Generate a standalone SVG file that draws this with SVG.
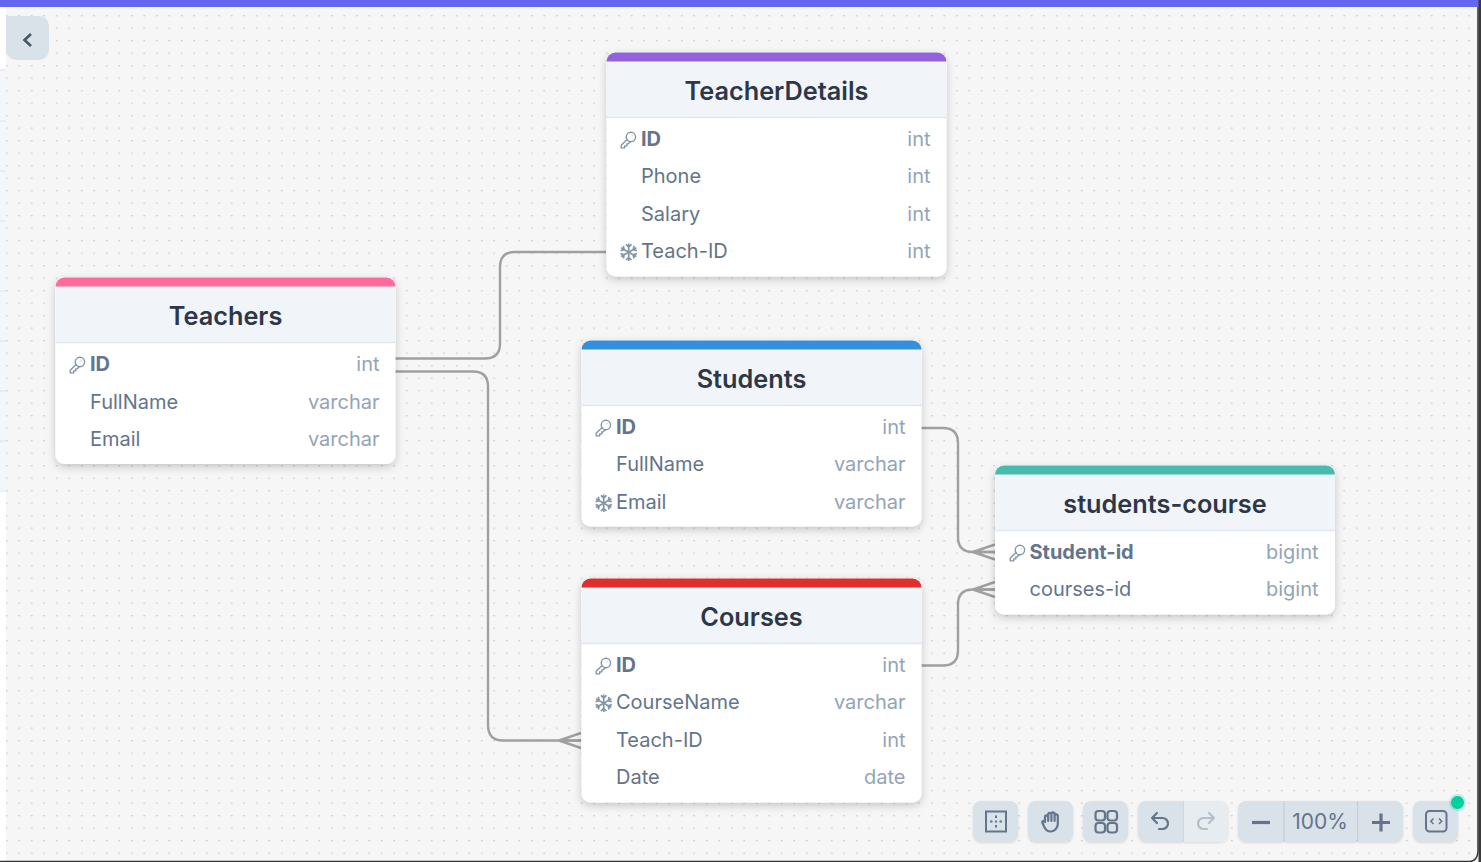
<svg xmlns="http://www.w3.org/2000/svg" xmlns:xlink="http://www.w3.org/1999/xlink" width="1481" height="862" viewBox="0 0 1481 862">
<style>
text{font-family:Inter,"Liberation Sans",sans-serif}
.ti{font-size:25.3px;font-weight:600;fill:#2d3748;text-anchor:middle}
.f{font-size:20px;fill:#64748b}
.b{font-size:20px;font-weight:700;fill:#64748b}
.t{font-size:20px;fill:#94a3b8;text-anchor:end}
.c{fill:none;stroke:#a0a0a0;stroke-width:2.4}
.key{fill:none;stroke:#8595a8;stroke-width:1.4;stroke-linejoin:round;stroke-linecap:round}
.sn{fill:none;stroke:#8595a8;stroke-width:1.700}
.tb{fill:#d9e2e9}
.ic{fill:none;stroke:#64748b;stroke-width:2.2;stroke-linecap:round;stroke-linejoin:round}
.head{fill:#f1f5f9}
.card{fill:#fff;filter:url(#sh)}
.sep{stroke:#e2e8f0;stroke-width:1.4}
</style>
<defs>
<pattern id="dots" width="12.5" height="12.5" patternUnits="userSpaceOnUse" x="0" y="2.5">
<rect x="6" y="-.1" width="1.5" height="1.5" fill="#cacaca"/>
</pattern>
<filter id="sh" x="-10%" y="-10%" width="120%" height="125%">
<feDropShadow dx="0" dy="3" stdDeviation="4" flood-color="#000" flood-opacity=".2"/>
</filter>
<filter id="sh2" x="-20%" y="-20%" width="140%" height="140%">
<feDropShadow dx="0" dy="1" stdDeviation="1.2" flood-color="#000" flood-opacity=".12"/>
</filter>
<g id="k"><circle cx="9.400" cy="-3" r="4.700" class="key"/><path class="key" d="M5.600-.4-.3 5.300V7.900H3.200V5.900H5.300V3.900H6.500L8.700 1.700"/><circle cx="10.600" cy="-4.200" r=".5" fill="#8595a8"/></g>
<path id="a" class="sn" d="M0 0V-8.800M-2.800-7.800 0-5.200 2.800-7.800"/>
<g id="s"><use xlink:href="#a" href="#a"/><use xlink:href="#a" href="#a" transform="rotate(60)"/><use xlink:href="#a" href="#a" transform="rotate(120)"/><use xlink:href="#a" href="#a" transform="rotate(180)"/><use xlink:href="#a" href="#a" transform="rotate(240)"/><use xlink:href="#a" href="#a" transform="rotate(300)"/></g>
<clipPath id="cT"><rect x="55.500" y="277.500" width="340" height="186.500" rx="9"/></clipPath>
<clipPath id="cD"><rect x="606.500" y="52.500" width="340" height="224" rx="9"/></clipPath>
<clipPath id="cS"><rect x="581.500" y="340.500" width="340" height="186" rx="9"/></clipPath>
<clipPath id="cC"><rect x="581.500" y="578.500" width="340" height="224" rx="9"/></clipPath>
<clipPath id="cX"><rect x="995" y="465.500" width="340" height="149" rx="9"/></clipPath>
</defs>

<g id="background">
<rect width="1481" height="862" fill="#fff"/>
<rect x="6" y="7" width="1472" height="854" fill="#f6f6f6"/>
<rect x="6" y="7" width="1472" height="854" fill="url(#dots)"/>
<rect x="0" y="70" width="6" height="420" fill="#f4f7fa"/>
<path d="M0 70H6M0 121H6M0 171H6M0 221H6M0 291H6M0 341H6M0 391H6M0 441H6M0 491H6" stroke="#dbe2ea" stroke-width="1"/>
<rect width="1481" height="7" fill="#6366f1"/>
<path d="M0 861.500H1470Q1477 861 1478 852V7" fill="none" stroke="#333" stroke-width="1.500"/>
<rect x="1478.500" y="0" width="2.500" height="862" fill="#3a3a3a"/>
</g>

<g id="back-button">
<path class="tb" d="M6 16H39a10 10 0 0 1 10 10V50a10 10 0 0 1-10 10H16a10 10 0 0 1-10-10Z"/>
<path d="M31 34 24.500 40 31 46" fill="none" stroke="#475569" stroke-width="2.600"/>
</g>

<g id="connectors">
<path class="c" d="M395 358.500H485Q500 358.500 500 343.500V267Q500 252 515 252H606"/>
<path class="c" d="M395 371.500H473Q488 371.500 488 386.500V725Q488 740.500 503 740.500H581"/>
<path class="c" d="M559 740.500 581 733M559 740.500H581M559 740.500 581 748"/>
<path class="c" d="M921 428H943Q958 428 958 443V537Q958 552 973 552H995"/>
<path class="c" d="M973 552 995 544.500M973 552H995M973 552 995 559.500"/>
<path class="c" d="M921 665.500H943Q958 665.500 958 650.500V604.500Q958 589.500 973 589.500H995"/>
<path class="c" d="M973 589.500 995 582M973 589.500H995M973 589.500 995 597"/>
</g>

<g id="Teachers">
<rect class="card" x="55.500" y="277.500" width="340" height="186.500" rx="9"/>
<g clip-path="url(#cT)"><rect class="head" x="55" y="277" width="341" height="66"/><rect x="55" y="277" width="341" height="9.500" fill="#ff6b9a"/></g>
<line class="sep" x1="55.500" x2="395.500" y1="342.500" y2="342.500"/>
<text class="ti" x="225.500" y="325">Teachers</text>
<use xlink:href="#k" href="#k" x="70.500" y="365"/>
<text class="b" x="90" y="371">ID</text><text class="t" x="379.500" y="371">int</text>
<text class="f" x="90" y="409">FullName</text><text class="t" x="379.500" y="409">varchar</text>
<text class="f" x="90" y="446">Email</text><text class="t" x="379.500" y="446">varchar</text>
</g>

<g id="TeacherDetails">
<rect class="card" x="606.500" y="52.500" width="340" height="224" rx="9"/>
<g clip-path="url(#cD)"><rect class="head" x="606" y="52" width="341" height="66"/><rect x="606" y="52" width="341" height="9.500" fill="#9461de"/></g>
<line class="sep" x1="606.500" x2="946.500" y1="117.500" y2="117.500"/>
<text class="ti" x="776.500" y="100">TeacherDetails</text>
<use xlink:href="#k" href="#k" x="621.500" y="140"/>
<text class="b" x="641" y="146">ID</text><text class="t" x="930.500" y="146">int</text>
<text class="f" x="641" y="183">Phone</text><text class="t" x="930.500" y="183">int</text>
<text class="f" x="641" y="221">Salary</text><text class="t" x="930.500" y="221">int</text>
<use xlink:href="#s" href="#s" x="628.700" y="252.200"/>
<text class="f" x="641" y="258">Teach-ID</text><text class="t" x="930.500" y="258">int</text>
</g>

<g id="Students">
<rect class="card" x="581.500" y="340.500" width="340" height="186" rx="9"/>
<g clip-path="url(#cS)"><rect class="head" x="581" y="340" width="341" height="66"/><rect x="581" y="340" width="341" height="9.500" fill="#3490de"/></g>
<line class="sep" x1="581.500" x2="921.500" y1="405.500" y2="405.500"/>
<text class="ti" x="751.500" y="388">Students</text>
<use xlink:href="#k" href="#k" x="596.500" y="428"/>
<text class="b" x="616" y="434">ID</text><text class="t" x="905.500" y="434">int</text>
<text class="f" x="616" y="471">FullName</text><text class="t" x="905.500" y="471">varchar</text>
<use xlink:href="#s" href="#s" x="603.700" y="503.200"/>
<text class="f" x="616" y="509">Email</text><text class="t" x="905.500" y="509">varchar</text>
</g>

<g id="Courses">
<rect class="card" x="581.500" y="578.500" width="340" height="224" rx="9"/>
<g clip-path="url(#cC)"><rect class="head" x="581" y="578" width="341" height="66"/><rect x="581" y="578" width="341" height="9.500" fill="#e22d2d"/></g>
<line class="sep" x1="581.500" x2="921.500" y1="643.500" y2="643.500"/>
<text class="ti" x="751.500" y="626">Courses</text>
<use xlink:href="#k" href="#k" x="596.500" y="666"/>
<text class="b" x="616" y="672">ID</text><text class="t" x="905.500" y="672">int</text>
<use xlink:href="#s" href="#s" x="603.700" y="703.200"/>
<text class="f" x="616" y="709">CourseName</text><text class="t" x="905.500" y="709">varchar</text>
<text class="f" x="616" y="747">Teach-ID</text><text class="t" x="905.500" y="747">int</text>
<text class="f" x="616" y="784">Date</text><text class="t" x="905.500" y="784">date</text>
</g>

<g id="students-course">
<rect class="card" x="995" y="465.500" width="340" height="149" rx="9"/>
<g clip-path="url(#cX)"><rect class="head" x="995" y="465" width="340" height="66"/><rect x="995" y="465" width="340" height="9.500" fill="#48bcac"/></g>
<line class="sep" x1="995" x2="1335" y1="530.500" y2="530.500"/>
<text class="ti" x="1165" y="513">students-course</text>
<use xlink:href="#k" href="#k" x="1010.500" y="553"/>
<text class="b" x="1029.500" y="559">Student-id</text><text class="t" x="1318.500" y="559">bigint</text>
<text class="f" x="1029.500" y="596">courses-id</text><text class="t" x="1318.500" y="596">bigint</text>
</g>

<g id="toolbar">
<g filter="url(#sh2)">
<rect class="tb" x="973" y="801" width="45" height="41" rx="8"/>
<rect class="tb" x="1028" y="801" width="45" height="41" rx="8"/>
<rect class="tb" x="1083" y="801" width="45" height="41" rx="8"/>
<path class="tb" d="M1146 801H1183V842H1146a8 8 0 0 1-8-8V809a8 8 0 0 1 8-8Z"/>
<path d="M1184 801H1220a8 8 0 0 1 8 8V834a8 8 0 0 1-8 8H1184Z" fill="#e6ecf0"/>
<path class="tb" d="M1246 801H1283V842H1246a8 8 0 0 1-8-8V809a8 8 0 0 1 8-8Z"/>
<rect class="tb" x="1285" y="801" width="71.500" height="41"/>
<path class="tb" d="M1358 801H1395a8 8 0 0 1 8 8V834a8 8 0 0 1-8 8H1358Z"/>
<rect class="tb" x="1413" y="801" width="45" height="41" rx="8"/>
</g>
<path d="M1284 801V842M1357.500 801V842" stroke="#c5d0da" stroke-width="1.500"/>
<path d="M1183.500 801V842" stroke="#cdd7df" stroke-width="1"/>
<rect x="986" y="811.500" width="20" height="20" fill="none" stroke="#64748b" stroke-width="2"/>
<path d="M996 815.500v2.500M996 825v2.500M990 821.500h2.500M999.500 821.500h2.500M996 820.500v2" stroke="#64748b" stroke-width="2" fill="none"/>
<path class="ic" d="M1045 822V817a1.600 1.600 0 0 1 3.200 0V821 814.500a1.600 1.600 0 0 1 3.200 0V821 814a1.600 1.600 0 0 1 3.200 0V821 816a1.600 1.600 0 0 1 3.200 0V824a7.500 7.500 0 0 1-7.500 7.500c-3 0-4.500-1.500-6-4.500l-2-4.500c-.4-1.500 1.500-2.200 2.500-1Z"/>
<g class="ic"><rect x="1095.500" y="811" width="9.500" height="9.500" rx="3"/><rect x="1107.500" y="811" width="9.500" height="9.500" rx="3"/><rect x="1095.500" y="823" width="9.500" height="9.500" rx="3"/><rect x="1107.500" y="823" width="9.500" height="9.500" rx="3"/></g>
<path class="ic" d="M1157 813 1152 818 1157 823M1152 818H1162.500a5.500 5.500 0 0 1 0 11H1159"/>
<path class="ic" style="stroke:#b3bfca" d="M1209 813 1214 818 1209 823M1214 818H1203.500a5.500 5.500 0 0 0 0 11H1207"/>
<path d="M1252 822.500H1270" stroke="#64748b" stroke-width="3.200"/>
<path d="M1372 822.500H1390M1381 813.500V831.500" stroke="#64748b" stroke-width="3.200"/>
<text x="1320" y="828.500" font-size="21" fill="#64748b" text-anchor="middle">100%</text>
<rect x="1426" y="811" width="20.500" height="20.500" rx="3.500" fill="none" stroke="#64748b" stroke-width="2"/>
<path d="M1433.500 818.500 1430.800 821.300 1433.500 824M1439 818.500 1441.700 821.300 1439 824" fill="none" stroke="#64748b" stroke-width="1.500"/>
<circle cx="1457.500" cy="802.500" r="8.500" fill="#00d1a0" fill-opacity=".25"/>
<circle cx="1457.500" cy="802.500" r="6.500" fill="#00cfa0"/>
</g>
</svg>
